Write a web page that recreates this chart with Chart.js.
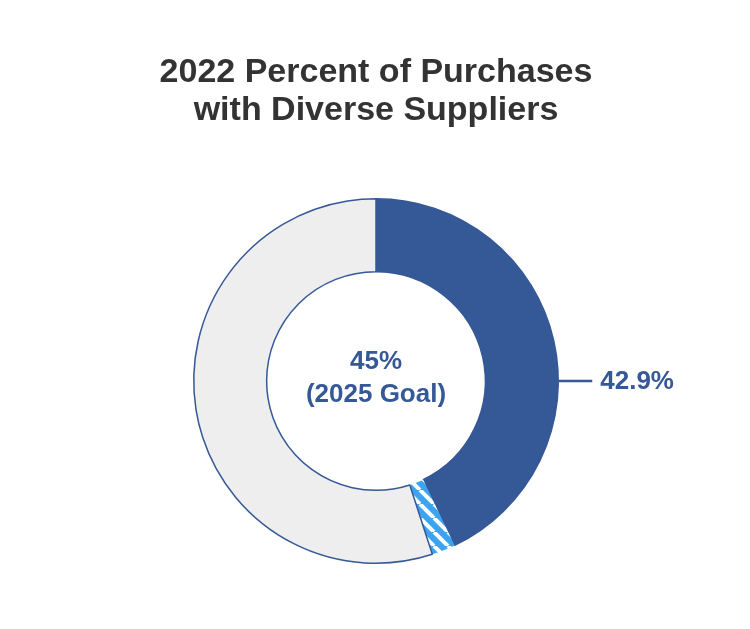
<!DOCTYPE html>
<html><head><meta charset="utf-8">
<script src="https://cdn.jsdelivr.net/npm/chart.js@4"></script>
<style>html,body{margin:0;padding:0;background:#fff}#wrap{width:750px;height:629px}</style>
</head><body><div id="wrap"><canvas id="c"></canvas></div>
<script>
const titleLines = ["2022 Percent of Purchases", "with Diverse Suppliers"];
const categories = ["2022 Actual", "Gap to 2025 Goal", "Remaining"];
const values = [42.9, 2.1, 55.0];
const centerText = ["45%", "(2025 Goal)"];
const labelText = "42.9%";

const pat=(function(){const p=document.createElement('canvas');p.width=14;p.height=14;const x=p.getContext('2d');x.fillStyle='#3aa4f0';x.fillRect(0,0,14,14);x.strokeStyle='#fff';x.lineWidth=4;for(let k=-14;k<=28;k+=14){x.beginPath();x.moveTo(k,0);x.lineTo(k+14,14);x.stroke();}return p;})();

const deco={id:'deco',afterDraw(ch){
  const c=ch.ctx;c.save();
  c.fillStyle='#333';c.font='bold 34px "Liberation Sans", Arial, sans-serif';c.textAlign='center';c.textBaseline='middle';
  c.fillText(titleLines[0],376,73);c.fillText(titleLines[1],376,111);
  const a=ch.getDatasetMeta(0).data[0];
  c.fillStyle='#355896';c.font='bold 26px "Liberation Sans", Arial, sans-serif';
  c.fillText(centerText[0],a.x,362);c.fillText(centerText[1],a.x,395);
  c.strokeStyle='#355896';c.lineWidth=2.5;c.beginPath();c.moveTo(a.x+a.outerRadius,a.y);c.lineTo(a.x+a.outerRadius+34,a.y);c.stroke();
  c.textAlign='left';c.fillText(labelText,a.x+a.outerRadius+42,a.y+1);
  c.restore();
}};
const ctx=document.getElementById('c').getContext('2d');
new Chart(ctx,{type:'doughnut',
 data:{labels:categories,datasets:[{data:values,
   backgroundColor:['#355896',ctx.createPattern(pat,'repeat'),'#eeeeee'],
   borderColor:['#355896','#3aa4f0','#355896'],borderWidth:[1.5,0,1.5]}]},
 options:{responsive:true,maintainAspectRatio:false,animation:false,cutout:'60%',
  layout:{padding:{top:198,bottom:65,left:2,right:0}},
  plugins:{legend:{display:false},tooltip:{enabled:false},title:{display:false}}},
 plugins:[deco]});
</script></body></html>
